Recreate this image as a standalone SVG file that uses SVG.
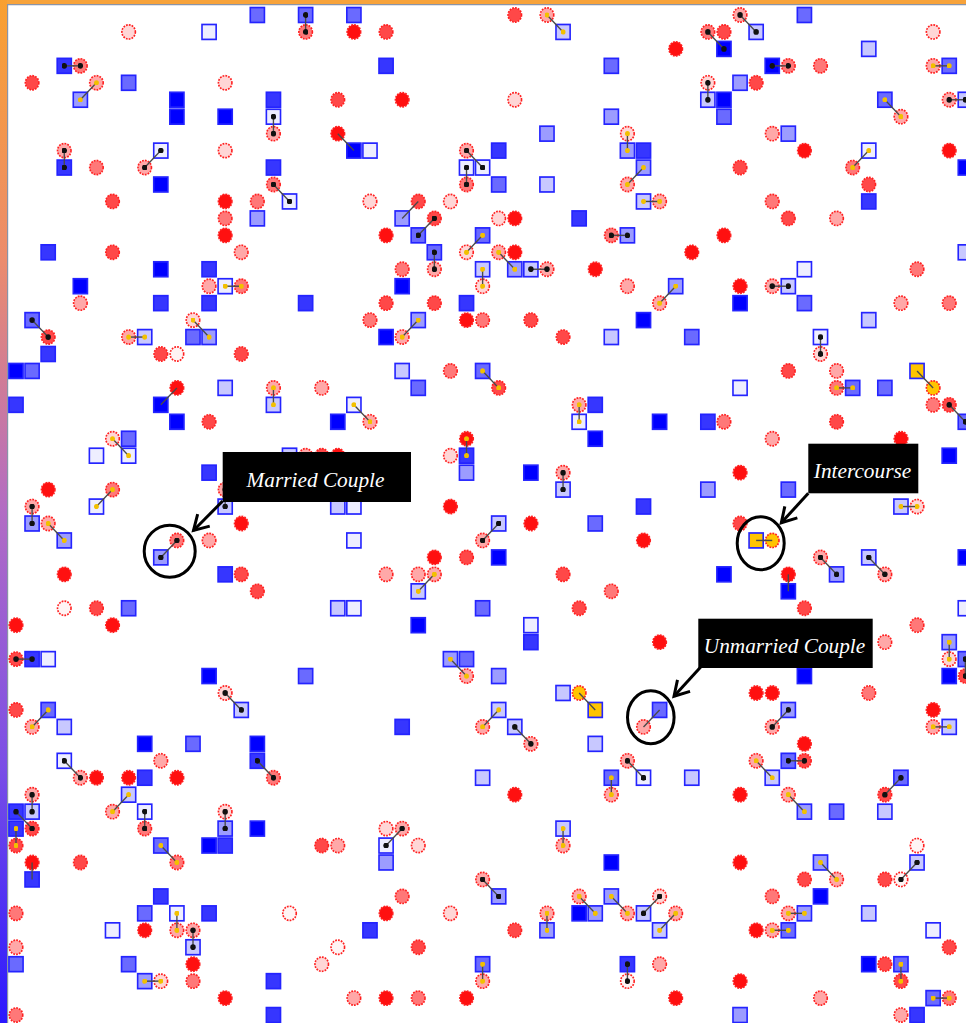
<svg xmlns="http://www.w3.org/2000/svg" width="966" height="1023" viewBox="0 0 966 1023">
<defs>
<style>
.c{stroke:#ff2020;stroke-width:.1;stroke-dasharray:.11 .07}
.s{stroke:#2424ff;stroke-width:.1}
.links line{stroke:#4a4a4a;stroke-width:.085}
.k{marker-start:url(#mk);marker-end:url(#mk)}
.g{marker-start:url(#mg);marker-end:url(#mg)}
.lbl{font-family:"Liberation Serif","Times New Roman",serif;font-style:italic;font-size:21.3px;fill:#fff;text-anchor:middle}
.call{fill:none;stroke:#000;stroke-width:3}
</style>
<linearGradient id="lg" x1="0" y1="0" x2="0" y2="1">
<stop offset="0" stop-color="#f9a030"/>
<stop offset=".25" stop-color="#ec8c6c"/>
<stop offset=".5" stop-color="#b26cc4"/>
<stop offset=".75" stop-color="#7a4ee6"/>
<stop offset="1" stop-color="#2a18ff"/>
</linearGradient>
<circle id="c5" r=".42" class="c" fill="#ff1010"/>
<circle id="c4" r=".42" class="c" fill="#ff4848"/>
<circle id="c3" r=".42" class="c" fill="#ff7878"/>
<circle id="c2" r=".42" class="c" fill="#ffa8a8"/>
<circle id="c1" r=".42" class="c" fill="#ffd6d6"/>
<circle id="c0" r=".42" class="c" fill="#fff4f4"/>
<circle id="cy" r=".42" class="c" fill="#ffc400"/>
<rect id="s5" x="-.44" y="-.44" width=".88" height=".88" class="s" fill="#0000ff"/>
<rect id="s4" x="-.44" y="-.44" width=".88" height=".88" class="s" fill="#3636ff"/>
<rect id="s3" x="-.44" y="-.44" width=".88" height=".88" class="s" fill="#6a6aff"/>
<rect id="s2" x="-.44" y="-.44" width=".88" height=".88" class="s" fill="#9c9cff"/>
<rect id="s1" x="-.44" y="-.44" width=".88" height=".88" class="s" fill="#c8c8ff"/>
<rect id="s0" x="-.44" y="-.44" width=".88" height=".88" class="s" fill="#eeeeff"/>
<rect id="sy" x="-.44" y="-.44" width=".88" height=".88" class="s" fill="#ffc400"/>
<marker id="mk" viewBox="-1 -1 2 2" markerWidth="4" markerHeight="4" markerUnits="strokeWidth"><circle r="1" fill="#111"/></marker>
<marker id="mg" viewBox="-1 -1 2 2" markerWidth="3.6" markerHeight="3.6" markerUnits="strokeWidth"><circle r="1" fill="#f2c000"/></marker>
<marker id="ah" markerUnits="userSpaceOnUse" orient="auto" overflow="visible" markerWidth="20" markerHeight="20"><path d="M-14.5,-8.5 L0,0 L-14.5,8.5" fill="none" stroke="#000" stroke-width="3"/></marker>
</defs>
<rect width="966" height="1023" fill="#fff"/>
<rect x="0" y="0" width="966" height="4" fill="#f7a33b"/>
<rect x="0" y="0" width="7" height="1023" fill="url(#lg)"/>
<line x1="7" y1="4.6" x2="966" y2="4.6" stroke="#8a94a8" stroke-width="1.2"/>
<line x1="7.6" y1="4" x2="7.6" y2="1023" stroke="#8a94a8" stroke-width="1.2"/>
<g id="agents" transform="matrix(16.09 0 0 16.95 16 15)">
<use href="#s3" x="15" y="0"/><use href="#s3" x="18" y="0"/><use href="#s3" x="21" y="0"/><use href="#c4" x="31" y="0"/><use href="#c2" x="33" y="0"/><use href="#c2" x="45" y="0"/><use href="#s3" x="49" y="0"/>
<use href="#c1" x="7" y="1"/><use href="#s0" x="12" y="1"/><use href="#c3" x="18" y="1"/><use href="#c5" x="21" y="1"/><use href="#c4" x="23" y="1"/><use href="#s1" x="34" y="1"/><use href="#c3" x="43" y="1"/><use href="#c4" x="44" y="1"/><use href="#s1" x="46" y="1"/><use href="#c1" x="57" y="1"/>
<use href="#c5" x="41" y="2"/><use href="#s5" x="44" y="2"/><use href="#s1" x="53" y="2"/>
<use href="#s4" x="3" y="3"/><use href="#c3" x="4" y="3"/><use href="#s4" x="23" y="3"/><use href="#s3" x="37" y="3"/><use href="#s5" x="47" y="3"/><use href="#c3" x="48" y="3"/><use href="#c3" x="50" y="3"/><use href="#c2" x="57" y="3"/><use href="#s3" x="58" y="3"/>
<use href="#c4" x="1" y="4"/><use href="#c2" x="5" y="4"/><use href="#s3" x="7" y="4"/><use href="#c1" x="13" y="4"/><use href="#c1" x="43" y="4"/><use href="#s2" x="45" y="4"/><use href="#c4" x="46" y="4"/>
<use href="#s2" x="4" y="5"/><use href="#s5" x="10" y="5"/><use href="#s4" x="16" y="5"/><use href="#c4" x="20" y="5"/><use href="#c5" x="24" y="5"/><use href="#c1" x="31" y="5"/><use href="#s1" x="43" y="5"/><use href="#s5" x="44" y="5"/><use href="#s3" x="54" y="5"/><use href="#c2" x="58" y="5"/><use href="#s1" x="59" y="5"/>
<use href="#s5" x="10" y="6"/><use href="#s5" x="13" y="6"/><use href="#s0" x="16" y="6"/><use href="#s2" x="37" y="6"/><use href="#s3" x="44" y="6"/><use href="#c2" x="55" y="6"/>
<use href="#c2" x="16" y="7"/><use href="#c5" x="20" y="7"/><use href="#s2" x="33" y="7"/><use href="#c1" x="38" y="7"/><use href="#c2" x="47" y="7"/><use href="#s2" x="48" y="7"/>
<use href="#c2" x="3" y="8"/><use href="#s0" x="9" y="8"/><use href="#c1" x="13" y="8"/><use href="#s5" x="21" y="8"/><use href="#s0" x="22" y="8"/><use href="#c2" x="28" y="8"/><use href="#s4" x="30" y="8"/><use href="#s2" x="38" y="8"/><use href="#s4" x="39" y="8"/><use href="#c5" x="49" y="8"/><use href="#s0" x="53" y="8"/><use href="#c5" x="58" y="8"/>
<use href="#s4" x="3" y="9"/><use href="#c3" x="5" y="9"/><use href="#c2" x="8" y="9"/><use href="#s4" x="16" y="9"/><use href="#s0" x="28" y="9"/><use href="#s0" x="29" y="9"/><use href="#s2" x="39" y="9"/><use href="#c4" x="45" y="9"/><use href="#c3" x="52" y="9"/><use href="#s5" x="59" y="9"/>
<use href="#s5" x="9" y="10"/><use href="#c3" x="16" y="10"/><use href="#c3" x="28" y="10"/><use href="#s3" x="30" y="10"/><use href="#s1" x="33" y="10"/><use href="#c2" x="38" y="10"/><use href="#c4" x="53" y="10"/>
<use href="#c4" x="6" y="11"/><use href="#c5" x="13" y="11"/><use href="#c3" x="15" y="11"/><use href="#s0" x="17" y="11"/><use href="#c1" x="22" y="11"/><use href="#c4" x="25" y="11"/><use href="#c1" x="27" y="11"/><use href="#s1" x="39" y="11"/><use href="#c2" x="40" y="11"/><use href="#c3" x="47" y="11"/><use href="#s4" x="53" y="11"/>
<use href="#c3" x="13" y="12"/><use href="#s2" x="15" y="12"/><use href="#s2" x="24" y="12"/><use href="#c4" x="26" y="12"/><use href="#c1" x="30" y="12"/><use href="#c5" x="31" y="12"/><use href="#s4" x="35" y="12"/><use href="#c4" x="48" y="12"/><use href="#c2" x="51" y="12"/>
<use href="#c5" x="13" y="13"/><use href="#c5" x="23" y="13"/><use href="#s3" x="25" y="13"/><use href="#s3" x="29" y="13"/><use href="#c3" x="37" y="13"/><use href="#s2" x="38" y="13"/><use href="#c5" x="44" y="13"/>
<use href="#s4" x="2" y="14"/><use href="#c4" x="6" y="14"/><use href="#c2" x="14" y="14"/><use href="#s3" x="26" y="14"/><use href="#c1" x="28" y="14"/><use href="#c2" x="30" y="14"/><use href="#c5" x="31" y="14"/><use href="#c5" x="42" y="14"/><use href="#s1" x="59" y="14"/>
<use href="#s5" x="9" y="15"/><use href="#s4" x="12" y="15"/><use href="#c3" x="24" y="15"/><use href="#c2" x="26" y="15"/><use href="#s1" x="29" y="15"/><use href="#s2" x="31" y="15"/><use href="#s1" x="32" y="15"/><use href="#c2" x="33" y="15"/><use href="#c5" x="36" y="15"/><use href="#s0" x="49" y="15"/><use href="#c3" x="56" y="15"/>
<use href="#s5" x="4" y="16"/><use href="#c2" x="12" y="16"/><use href="#s0" x="13" y="16"/><use href="#c3" x="14" y="16"/><use href="#s5" x="24" y="16"/><use href="#c1" x="29" y="16"/><use href="#c2" x="38" y="16"/><use href="#s2" x="41" y="16"/><use href="#c5" x="45" y="16"/><use href="#c2" x="47" y="16"/><use href="#s1" x="48" y="16"/>
<use href="#c2" x="4" y="17"/><use href="#s4" x="9" y="17"/><use href="#s4" x="12" y="17"/><use href="#s4" x="18" y="17"/><use href="#c4" x="23" y="17"/><use href="#c4" x="26" y="17"/><use href="#s4" x="28" y="17"/><use href="#c2" x="40" y="17"/><use href="#s5" x="45" y="17"/><use href="#s3" x="49" y="17"/><use href="#c2" x="55" y="17"/><use href="#c3" x="58" y="17"/>
<use href="#s3" x="1" y="18"/><use href="#c1" x="11" y="18"/><use href="#c3" x="22" y="18"/><use href="#s2" x="25" y="18"/><use href="#c5" x="28" y="18"/><use href="#c3" x="29" y="18"/><use href="#c4" x="32" y="18"/><use href="#s5" x="39" y="18"/><use href="#s1" x="53" y="18"/>
<use href="#c4" x="2" y="19"/><use href="#c2" x="7" y="19"/><use href="#s1" x="8" y="19"/><use href="#s3" x="11" y="19"/><use href="#s2" x="12" y="19"/><use href="#s5" x="23" y="19"/><use href="#c2" x="24" y="19"/><use href="#c4" x="34" y="19"/><use href="#s1" x="37" y="19"/><use href="#s3" x="42" y="19"/><use href="#s0" x="50" y="19"/>
<use href="#s4" x="2" y="20"/><use href="#c4" x="9" y="20"/><use href="#c0" x="10" y="20"/><use href="#c4" x="14" y="20"/><use href="#c1" x="50" y="20"/>
<use href="#s5" x="0" y="21"/><use href="#s3" x="1" y="21"/><use href="#s1" x="24" y="21"/><use href="#c3" x="27" y="21"/><use href="#s3" x="29" y="21"/><use href="#c4" x="48" y="21"/><use href="#c2" x="51" y="21"/><use href="#sy" x="56" y="21"/>
<use href="#c5" x="10" y="22"/><use href="#s1" x="13" y="22"/><use href="#c2" x="16" y="22"/><use href="#c2" x="19" y="22"/><use href="#s3" x="25" y="22"/><use href="#c4" x="30" y="22"/><use href="#s0" x="45" y="22"/><use href="#c3" x="51" y="22"/><use href="#s3" x="52" y="22"/><use href="#s3" x="54" y="22"/><use href="#cy" x="57" y="22"/>
<use href="#s4" x="0" y="23"/><use href="#s5" x="9" y="23"/><use href="#s1" x="16" y="23"/><use href="#s0" x="21" y="23"/><use href="#c2" x="35" y="23"/><use href="#s4" x="36" y="23"/><use href="#c3" x="57" y="23"/><use href="#c4" x="58" y="23"/>
<use href="#s5" x="10" y="24"/><use href="#c4" x="12" y="24"/><use href="#s5" x="20" y="24"/><use href="#c2" x="22" y="24"/><use href="#s0" x="35" y="24"/><use href="#s5" x="40" y="24"/><use href="#s4" x="43" y="24"/><use href="#c3" x="44" y="24"/><use href="#c4" x="51" y="24"/><use href="#s3" x="59" y="24"/>
<use href="#c1" x="6" y="25"/><use href="#s3" x="7" y="25"/><use href="#c5" x="28" y="25"/><use href="#s5" x="36" y="25"/><use href="#c2" x="47" y="25"/><use href="#c5" x="55" y="25"/>
<use href="#s0" x="5" y="26"/><use href="#s0" x="7" y="26"/><use href="#s1" x="17" y="26"/><use href="#c2" x="18" y="26"/><use href="#c4" x="19" y="26"/><use href="#c5" x="20" y="26"/><use href="#c1" x="27" y="26"/><use href="#s4" x="28" y="26"/><use href="#s5" x="58" y="26"/>
<use href="#s4" x="12" y="27"/><use href="#s2" x="28" y="27"/><use href="#s5" x="32" y="27"/><use href="#c2" x="34" y="27"/><use href="#c5" x="45" y="27"/>
<use href="#c5" x="2" y="28"/><use href="#c3" x="6" y="28"/><use href="#c2" x="13" y="28"/><use href="#s1" x="34" y="28"/><use href="#s2" x="43" y="28"/><use href="#s3" x="48" y="28"/>
<use href="#c2" x="1" y="29"/><use href="#s0" x="5" y="29"/><use href="#s1" x="13" y="29"/><use href="#s1" x="20" y="29"/><use href="#s0" x="21" y="29"/><use href="#c5" x="27" y="29"/><use href="#s4" x="39" y="29"/><use href="#s1" x="55" y="29"/><use href="#c1" x="56" y="29"/>
<use href="#s2" x="1" y="30"/><use href="#c2" x="2" y="30"/><use href="#c5" x="14" y="30"/><use href="#s1" x="30" y="30"/><use href="#c5" x="32" y="30"/><use href="#s3" x="36" y="30"/><use href="#c4" x="45" y="30"/>
<use href="#s2" x="3" y="31"/><use href="#c3" x="10" y="31"/><use href="#c2" x="12" y="31"/><use href="#s0" x="21" y="31"/><use href="#c2" x="29" y="31"/><use href="#c5" x="39" y="31"/><use href="#sy" x="46" y="31"/><use href="#cy" x="47" y="31"/>
<use href="#s2" x="9" y="32"/><use href="#c5" x="26" y="32"/><use href="#c4" x="28" y="32"/><use href="#s5" x="30" y="32"/><use href="#c2" x="50" y="32"/><use href="#s1" x="53" y="32"/><use href="#s5" x="59" y="32"/>
<use href="#c5" x="3" y="33"/><use href="#s4" x="13" y="33"/><use href="#c4" x="14" y="33"/><use href="#c2" x="23" y="33"/><use href="#c2" x="25" y="33"/><use href="#c2" x="26" y="33"/><use href="#c4" x="34" y="33"/><use href="#s5" x="44" y="33"/><use href="#c5" x="48" y="33"/><use href="#s2" x="51" y="33"/><use href="#c2" x="54" y="33"/>
<use href="#c4" x="15" y="34"/><use href="#s1" x="25" y="34"/><use href="#c3" x="37" y="34"/><use href="#s5" x="48" y="34"/>
<use href="#c0" x="3" y="35"/><use href="#c4" x="5" y="35"/><use href="#s3" x="7" y="35"/><use href="#s1" x="20" y="35"/><use href="#s0" x="21" y="35"/><use href="#s3" x="29" y="35"/><use href="#c4" x="35" y="35"/><use href="#c4" x="49" y="35"/><use href="#s0" x="59" y="35"/>
<use href="#c5" x="0" y="36"/><use href="#c5" x="6" y="36"/><use href="#s5" x="25" y="36"/><use href="#s0" x="32" y="36"/><use href="#c3" x="56" y="36"/>
<use href="#s4" x="32" y="37"/><use href="#c5" x="40" y="37"/><use href="#c2" x="54" y="37"/><use href="#s2" x="58" y="37"/>
<use href="#c4" x="0" y="38"/><use href="#s4" x="1" y="38"/><use href="#s0" x="2" y="38"/><use href="#s2" x="27" y="38"/><use href="#s3" x="28" y="38"/><use href="#c1" x="58" y="38"/><use href="#s3" x="59" y="38"/>
<use href="#s5" x="12" y="39"/><use href="#s3" x="18" y="39"/><use href="#c2" x="28" y="39"/><use href="#s2" x="30" y="39"/><use href="#s5" x="49" y="39"/><use href="#s5" x="58" y="39"/><use href="#c4" x="59" y="39"/>
<use href="#c1" x="13" y="40"/><use href="#s1" x="34" y="40"/><use href="#cy" x="35" y="40"/><use href="#c5" x="46" y="40"/><use href="#c5" x="47" y="40"/><use href="#c3" x="53" y="40"/>
<use href="#c4" x="0" y="41"/><use href="#s3" x="2" y="41"/><use href="#s1" x="14" y="41"/><use href="#s1" x="30" y="41"/><use href="#sy" x="36" y="41"/><use href="#s3" x="40" y="41"/><use href="#s2" x="48" y="41"/><use href="#c5" x="57" y="41"/>
<use href="#c2" x="1" y="42"/><use href="#s1" x="3" y="42"/><use href="#s4" x="24" y="42"/><use href="#c2" x="29" y="42"/><use href="#s1" x="31" y="42"/><use href="#c2" x="39" y="42"/><use href="#c2" x="47" y="42"/><use href="#c2" x="57" y="42"/><use href="#s1" x="58" y="42"/>
<use href="#s5" x="8" y="43"/><use href="#s3" x="11" y="43"/><use href="#s5" x="15" y="43"/><use href="#c2" x="32" y="43"/><use href="#s1" x="36" y="43"/><use href="#c5" x="49" y="43"/>
<use href="#s0" x="3" y="44"/><use href="#c2" x="9" y="44"/><use href="#s4" x="15" y="44"/><use href="#c2" x="38" y="44"/><use href="#c2" x="46" y="44"/><use href="#s3" x="48" y="44"/><use href="#c4" x="49" y="44"/>
<use href="#c2" x="4" y="45"/><use href="#c5" x="5" y="45"/><use href="#c5" x="7" y="45"/><use href="#s4" x="8" y="45"/><use href="#c5" x="10" y="45"/><use href="#c3" x="16" y="45"/><use href="#s1" x="29" y="45"/><use href="#s3" x="37" y="45"/><use href="#s0" x="39" y="45"/><use href="#s1" x="42" y="45"/><use href="#s1" x="47" y="45"/><use href="#s3" x="55" y="45"/>
<use href="#c2" x="1" y="46"/><use href="#s1" x="7" y="46"/><use href="#c5" x="31" y="46"/><use href="#c2" x="37" y="46"/><use href="#c5" x="45" y="46"/><use href="#c2" x="48" y="46"/><use href="#c4" x="54" y="46"/>
<use href="#s4" x="0" y="47"/><use href="#s1" x="1" y="47"/><use href="#c2" x="6" y="47"/><use href="#s0" x="8" y="47"/><use href="#c1" x="13" y="47"/><use href="#s2" x="49" y="47"/><use href="#s3" x="51" y="47"/><use href="#s1" x="54" y="47"/>
<use href="#s4" x="0" y="48"/><use href="#c4" x="1" y="48"/><use href="#c3" x="8" y="48"/><use href="#s2" x="13" y="48"/><use href="#s5" x="15" y="48"/><use href="#c1" x="23" y="48"/><use href="#c2" x="24" y="48"/><use href="#s1" x="34" y="48"/>
<use href="#c4" x="0" y="49"/><use href="#s3" x="9" y="49"/><use href="#s5" x="12" y="49"/><use href="#s4" x="13" y="49"/><use href="#c4" x="19" y="49"/><use href="#c2" x="20" y="49"/><use href="#s0" x="23" y="49"/><use href="#c1" x="25" y="49"/><use href="#c2" x="34" y="49"/><use href="#c0" x="56" y="49"/>
<use href="#c5" x="1" y="50"/><use href="#c4" x="4" y="50"/><use href="#c3" x="10" y="50"/><use href="#s2" x="23" y="50"/><use href="#s5" x="37" y="50"/><use href="#c5" x="45" y="50"/><use href="#s2" x="50" y="50"/><use href="#s1" x="56" y="50"/>
<use href="#s4" x="1" y="51"/><use href="#c2" x="29" y="51"/><use href="#c4" x="49" y="51"/><use href="#c2" x="51" y="51"/><use href="#c4" x="54" y="51"/><use href="#c0" x="55" y="51"/>
<use href="#s4" x="9" y="52"/><use href="#c3" x="24" y="52"/><use href="#s2" x="30" y="52"/><use href="#c2" x="35" y="52"/><use href="#s2" x="37" y="52"/><use href="#c1" x="40" y="52"/><use href="#c3" x="47" y="52"/><use href="#s5" x="50" y="52"/>
<use href="#c3" x="0" y="53"/><use href="#s3" x="8" y="53"/><use href="#s0" x="10" y="53"/><use href="#s4" x="12" y="53"/><use href="#c0" x="17" y="53"/><use href="#c5" x="23" y="53"/><use href="#c1" x="27" y="53"/><use href="#c2" x="33" y="53"/><use href="#s5" x="35" y="53"/><use href="#s2" x="36" y="53"/><use href="#c2" x="38" y="53"/><use href="#s1" x="39" y="53"/><use href="#c2" x="41" y="53"/><use href="#c2" x="48" y="53"/><use href="#s2" x="49" y="53"/><use href="#s1" x="53" y="53"/>
<use href="#s0" x="6" y="54"/><use href="#c5" x="8" y="54"/><use href="#c2" x="10" y="54"/><use href="#c2" x="11" y="54"/><use href="#s4" x="22" y="54"/><use href="#c4" x="31" y="54"/><use href="#s2" x="33" y="54"/><use href="#s1" x="40" y="54"/><use href="#c5" x="46" y="54"/><use href="#c2" x="47" y="54"/><use href="#s3" x="48" y="54"/><use href="#s0" x="57" y="54"/>
<use href="#c2" x="0" y="55"/><use href="#s1" x="11" y="55"/><use href="#c0" x="20" y="55"/><use href="#c4" x="25" y="55"/><use href="#c4" x="58" y="55"/>
<use href="#s3" x="0" y="56"/><use href="#s3" x="7" y="56"/><use href="#c5" x="11" y="56"/><use href="#c1" x="19" y="56"/><use href="#s3" x="29" y="56"/><use href="#s4" x="38" y="56"/><use href="#c2" x="40" y="56"/><use href="#s5" x="53" y="56"/><use href="#c4" x="54" y="56"/><use href="#s3" x="55" y="56"/>
<use href="#s2" x="8" y="57"/><use href="#c1" x="9" y="57"/><use href="#c3" x="11" y="57"/><use href="#s4" x="16" y="57"/><use href="#c2" x="29" y="57"/><use href="#c0" x="38" y="57"/><use href="#c5" x="45" y="57"/><use href="#c4" x="55" y="57"/>
<use href="#c5" x="13" y="58"/><use href="#c2" x="21" y="58"/><use href="#c5" x="23" y="58"/><use href="#c3" x="25" y="58"/><use href="#c5" x="28" y="58"/><use href="#c5" x="41" y="58"/><use href="#c2" x="50" y="58"/><use href="#s3" x="57" y="58"/><use href="#c3" x="58" y="58"/>
<use href="#c3" x="0" y="59"/><use href="#s4" x="16" y="59"/><use href="#s2" x="45" y="59"/><use href="#c2" x="55" y="59"/><use href="#s4" x="56" y="59"/>
</g>
<g id="links" class="links" transform="matrix(16.09 0 0 16.95 16 15)">
<line class="k" x1="18" y1="0" x2="18" y2="1"/>
<line class="k" x1="3" y1="3" x2="4" y2="3"/>
<line class="g" x1="5" y1="4" x2="4" y2="5"/>
<line class="k" x1="16" y1="6" x2="16" y2="7"/>
<line class="k" x1="3" y1="8" x2="3" y2="9"/>
<line class="k" x1="8" y1="9" x2="9" y2="8"/>
<line class="k" x1="16" y1="10" x2="17" y2="11"/>
<line class="g" x1="33" y1="0" x2="34" y2="1"/>
<line x1="20" y1="7" x2="21" y2="8"/>
<line class="g" x1="38" y1="7" x2="38" y2="8"/>
<line class="k" x1="28" y1="8" x2="29" y2="9"/>
<line class="k" x1="28" y1="9" x2="28" y2="10"/>
<line class="g" x1="39" y1="9" x2="38" y2="10"/>
<line class="g" x1="39" y1="11" x2="40" y2="11"/>
<line x1="25" y1="11" x2="24" y2="12"/>
<line class="k" x1="26" y1="12" x2="25" y2="13"/>
<line class="g" x1="29" y1="13" x2="28" y2="14"/>
<line class="k" x1="26" y1="14" x2="26" y2="15"/>
<line class="g" x1="30" y1="14" x2="31" y2="15"/>
<line class="k" x1="37" y1="13" x2="38" y2="13"/>
<line class="k" x1="45" y1="0" x2="46" y2="1"/>
<line class="k" x1="43" y1="1" x2="44" y2="2"/>
<line class="k" x1="47" y1="3" x2="48" y2="3"/>
<line class="g" x1="57" y1="3" x2="58" y2="3"/>
<line class="k" x1="43" y1="4" x2="43" y2="5"/>
<line class="g" x1="54" y1="5" x2="55" y2="6"/>
<line class="k" x1="58" y1="5" x2="59" y2="5"/>
<line class="g" x1="53" y1="8" x2="52" y2="9"/>
<line class="g" x1="13" y1="16" x2="14" y2="16"/>
<line class="k" x1="1" y1="18" x2="2" y2="19"/>
<line class="g" x1="7" y1="19" x2="8" y2="19"/>
<line class="g" x1="11" y1="18" x2="12" y2="19"/>
<line x1="10" y1="22" x2="9" y2="23"/>
<line class="g" x1="16" y1="22" x2="16" y2="23"/>
<line class="g" x1="6" y1="25" x2="7" y2="26"/>
<line class="g" x1="6" y1="28" x2="5" y2="29"/>
<line class="k" x1="1" y1="29" x2="1" y2="30"/>
<line class="k" x1="13" y1="28" x2="13" y2="29"/>
<line class="g" x1="29" y1="15" x2="29" y2="16"/>
<line class="k" x1="32" y1="15" x2="33" y2="15"/>
<line class="g" x1="25" y1="18" x2="24" y2="19"/>
<line class="g" x1="29" y1="21" x2="30" y2="22"/>
<line class="g" x1="21" y1="23" x2="22" y2="24"/>
<line class="g" x1="35" y1="23" x2="35" y2="24"/>
<line class="g" x1="28" y1="25" x2="28" y2="26"/>
<line class="g" x1="17" y1="26" x2="18" y2="26"/>
<line class="k" x1="34" y1="27" x2="34" y2="28"/>
<line class="g" x1="41" y1="16" x2="40" y2="17"/>
<line class="k" x1="47" y1="16" x2="48" y2="16"/>
<line class="k" x1="50" y1="19" x2="50" y2="20"/>
<line class="g" x1="51" y1="22" x2="52" y2="22"/>
<line x1="56" y1="21" x2="57" y2="22"/>
<line class="k" x1="58" y1="23" x2="59" y2="24"/>
<line class="g" x1="55" y1="29" x2="56" y2="29"/>
<line class="g" x1="2" y1="30" x2="3" y2="31"/>
<line class="k" x1="10" y1="31" x2="9" y2="32"/>
<line class="k" x1="0" y1="38" x2="1" y2="38"/>
<line class="k" x1="13" y1="40" x2="14" y2="41"/>
<line class="g" x1="2" y1="41" x2="1" y2="42"/>
<line class="k" x1="15" y1="44" x2="16" y2="45"/>
<line class="k" x1="3" y1="44" x2="4" y2="45"/>
<line class="k" x1="30" y1="30" x2="29" y2="31"/>
<line class="g" x1="26" y1="33" x2="25" y2="34"/>
<line class="g" x1="27" y1="38" x2="28" y2="39"/>
<line x1="35" y1="40" x2="36" y2="41"/>
<line class="g" x1="30" y1="41" x2="29" y2="42"/>
<line class="k" x1="31" y1="42" x2="32" y2="43"/>
<line x1="46" y1="31" x2="47" y2="31"/>
<line class="k" x1="50" y1="32" x2="51" y2="33"/>
<line class="k" x1="53" y1="32" x2="54" y2="33"/>
<line x1="48" y1="33" x2="48" y2="34"/>
<line class="g" x1="58" y1="37" x2="58" y2="38"/>
<line class="k" x1="59" y1="38" x2="59" y2="39"/>
<line class="k" x1="48" y1="41" x2="47" y2="42"/>
<line x1="40" y1="41" x2="39" y2="42"/>
<line class="g" x1="57" y1="42" x2="58" y2="42"/>
<line class="g" x1="46" y1="44" x2="47" y2="45"/>
<line class="k" x1="48" y1="44" x2="49" y2="44"/>
<line class="k" x1="38" y1="44" x2="39" y2="45"/>
<line class="k" x1="1" y1="46" x2="1" y2="47"/>
<line class="k" x1="0" y1="47" x2="1" y2="48"/>
<line class="g" x1="0" y1="48" x2="0" y2="49"/>
<line class="g" x1="7" y1="46" x2="6" y2="47"/>
<line class="k" x1="8" y1="47" x2="8" y2="48"/>
<line class="k" x1="13" y1="47" x2="13" y2="48"/>
<line class="g" x1="9" y1="49" x2="10" y2="50"/>
<line x1="1" y1="50" x2="1" y2="51"/>
<line class="g" x1="10" y1="53" x2="10" y2="54"/>
<line class="k" x1="11" y1="54" x2="11" y2="55"/>
<line class="g" x1="8" y1="57" x2="9" y2="57"/>
<line class="g" x1="37" y1="45" x2="37" y2="46"/>
<line class="g" x1="34" y1="48" x2="34" y2="49"/>
<line class="k" x1="24" y1="48" x2="23" y2="49"/>
<line class="k" x1="29" y1="51" x2="30" y2="52"/>
<line class="g" x1="33" y1="53" x2="33" y2="54"/>
<line class="g" x1="35" y1="52" x2="36" y2="53"/>
<line class="g" x1="37" y1="52" x2="38" y2="53"/>
<line class="k" x1="39" y1="53" x2="40" y2="52"/>
<line class="g" x1="29" y1="56" x2="29" y2="57"/>
<line class="k" x1="38" y1="56" x2="38" y2="57"/>
<line class="k" x1="55" y1="45" x2="54" y2="46"/>
<line class="g" x1="48" y1="46" x2="49" y2="47"/>
<line class="k" x1="56" y1="50" x2="55" y2="51"/>
<line class="g" x1="50" y1="50" x2="51" y2="51"/>
<line class="g" x1="41" y1="53" x2="40" y2="54"/>
<line class="g" x1="48" y1="53" x2="49" y2="53"/>
<line class="g" x1="47" y1="54" x2="48" y2="54"/>
<line class="g" x1="55" y1="56" x2="55" y2="57"/>
<line class="g" x1="57" y1="58" x2="58" y2="58"/>
</g>
<g id="callout-married">
<ellipse class="call" cx="169.7" cy="551.2" rx="25.5" ry="26"/>
<line x1="222.7" y1="501" x2="193.5" y2="530.5" stroke="#000" stroke-width="3" marker-end="url(#ah)"/>
<rect x="222.7" y="452" width="188.3" height="50" fill="#000"/>
<text class="lbl" x="315.5" y="487">Married Couple</text>
</g>
<g id="callout-intercourse">
<ellipse class="call" cx="760.7" cy="543.3" rx="23.5" ry="26.5"/>
<line x1="808.3" y1="493.3" x2="781.3" y2="522.8" stroke="#000" stroke-width="3" marker-end="url(#ah)"/>
<rect x="808.3" y="443.7" width="110" height="49.6" fill="#000"/>
<text class="lbl" x="862.5" y="477.5">Intercourse</text>
</g>
<g id="callout-unmarried">
<ellipse class="call" cx="650.8" cy="717.3" rx="23.3" ry="26.5"/>
<line x1="700.7" y1="667" x2="674" y2="696.3" stroke="#000" stroke-width="3" marker-end="url(#ah)"/>
<rect x="698.3" y="618.7" width="174.4" height="49.3" fill="#000"/>
<text class="lbl" x="784.5" y="652.7">Unmarried Couple</text>
</g>
</svg>
